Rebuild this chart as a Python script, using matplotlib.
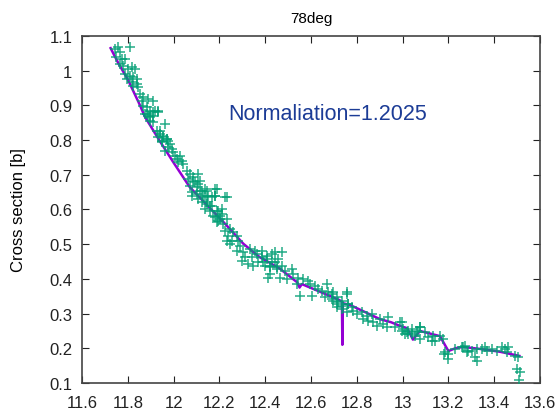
import numpy as np
import matplotlib.pyplot as plt

plt.rcParams['font.family'] = ['Liberation Sans', 'DejaVu Sans']

# fitted / normalised curve (purple)
line_x = [11.725, 11.76, 11.80, 11.85, 11.875, 11.94, 12.0, 12.07, 12.15, 12.216,
          12.233, 12.305, 12.377, 12.392, 12.465, 12.54, 12.55, 12.56, 12.65, 12.72,
          12.735, 12.737, 12.739, 12.77, 12.85, 12.901, 12.95, 12.99, 13.02, 13.045,
          13.076, 13.163, 13.2, 13.23, 13.264, 13.34, 13.425, 13.51]
line_y = [1.065, 1.02, 0.975, 0.905, 0.867, 0.797, 0.735, 0.665, 0.61, 0.565,
          0.553, 0.501, 0.462, 0.457, 0.429, 0.39, 0.375, 0.385, 0.36, 0.34,
          0.335, 0.21, 0.33, 0.325, 0.30, 0.284, 0.275, 0.264, 0.258, 0.225,
          0.25, 0.235, 0.192, 0.20, 0.204, 0.198, 0.19, 0.178]

# measured points (green)
data_x = [11.744, 11.759, 11.810, 11.766, 11.748, 11.773, 11.788, 11.766, 11.781, 11.817,
          11.802, 11.831, 11.788, 11.810, 11.824, 11.839, 11.795, 11.817, 11.839, 11.824,
          11.846, 11.853, 11.868, 11.861, 11.890, 11.912, 11.868, 11.882, 11.897, 11.919,
          11.875, 11.890, 11.912, 11.933, 11.897, 11.912, 11.962, 11.926, 11.941, 11.955,
          11.970, 11.948, 11.977,
          11.882, 11.912, 11.933, 11.897, 11.941, 11.955, 11.933, 11.970, 11.948, 11.984,
          11.977, 11.992, 11.962, 11.999, 12.006, 12.028, 12.013, 12.035, 12.021, 12.043,
          12.057, 12.072, 12.108, 12.064, 12.086, 12.093, 12.115, 12.072, 12.101, 12.079,
          12.123, 12.144, 12.188, 12.137, 12.108, 12.166, 12.181, 12.144, 12.159, 12.188,
          12.210, 12.174, 12.203, 12.232, 12.195, 12.217,
          12.086, 12.108, 12.079, 12.101, 12.115, 12.137, 12.181, 12.130, 12.152, 12.181,
          12.224, 12.123, 12.144, 12.166, 12.137, 12.159, 12.195, 12.210, 12.181, 12.203,
          12.232, 12.188, 12.224, 12.246, 12.261, 12.239, 12.275, 12.232, 12.254, 12.283,
          12.246, 12.290, 12.275, 12.305, 12.334, 12.355, 12.312, 12.297, 12.341, 12.363,
          12.384, 12.326, 12.348, 12.370, 12.406, 12.428, 12.399, 12.421, 12.443, 12.450,
          12.421,
          12.385, 12.443, 12.472, 12.406, 12.392, 12.428, 12.457, 12.421, 12.450, 12.472,
          12.487, 12.516, 12.414, 12.465, 12.494, 12.523, 12.545, 12.567, 12.537, 12.588,
          12.596, 12.618, 12.552, 12.603, 12.632, 12.647, 12.668, 12.676, 12.698, 12.661,
          12.690, 12.712, 12.734, 12.756, 12.712, 12.741, 12.763,
          12.690, 12.698, 12.719, 12.712, 12.734, 12.756, 12.763, 12.778, 12.756, 12.785,
          12.799, 12.821, 12.843, 12.865, 12.829, 12.850, 12.872, 12.901, 12.916, 12.938,
          12.887, 12.930, 12.967, 12.989, 12.996, 13.018, 13.040, 13.061, 13.076, 13.025,
          13.054,
          12.996, 13.003, 13.025, 13.040, 13.010, 13.076, 13.069, 13.098, 13.076, 13.112,
          13.127, 13.134, 13.163, 13.141, 13.178, 13.185, 13.200, 13.229, 13.258, 13.272,
          13.287, 13.302, 13.323, 13.180, 13.200,
          13.265, 13.280, 13.316, 13.323, 13.345, 13.360, 13.367, 13.389, 13.411, 13.433,
          13.447, 13.462, 13.454, 13.491, 13.505, 13.498, 13.513, 13.508]
data_y = [1.063, 1.067, 1.067, 1.053, 1.039, 1.034, 1.034, 1.019, 1.015, 1.010,
          1.005, 1.005, 0.991, 0.986, 0.981, 0.976, 0.976, 0.967, 0.962, 0.957,
          0.952, 0.933, 0.923, 0.914, 0.918, 0.914, 0.899, 0.894, 0.885, 0.885,
          0.875, 0.870, 0.870, 0.880, 0.856, 0.851, 0.846, 0.827, 0.818, 0.808,
          0.803, 0.798, 0.796,
          0.875, 0.880, 0.885, 0.866, 0.827, 0.813, 0.808, 0.803, 0.794, 0.789,
          0.779, 0.774, 0.770, 0.765, 0.755, 0.755, 0.746, 0.741, 0.736, 0.731,
          0.712, 0.702, 0.702, 0.688, 0.693, 0.678, 0.683, 0.669, 0.664, 0.640,
          0.654, 0.654, 0.659, 0.640, 0.630, 0.635, 0.640, 0.621, 0.611, 0.597,
          0.601, 0.582, 0.582, 0.635, 0.568, 0.558,
          0.683, 0.673, 0.649, 0.645, 0.654, 0.659, 0.659, 0.635, 0.640, 0.640,
          0.635, 0.621, 0.616, 0.611, 0.601, 0.597, 0.597, 0.587, 0.577, 0.573,
          0.573, 0.563, 0.539, 0.544, 0.534, 0.525, 0.525, 0.510, 0.510, 0.510,
          0.501, 0.496, 0.481, 0.477, 0.486, 0.481, 0.462, 0.453, 0.462, 0.472,
          0.462, 0.443, 0.438, 0.448, 0.457, 0.472, 0.438, 0.438, 0.448, 0.433,
          0.414,
          0.481, 0.477, 0.477, 0.467, 0.448, 0.448, 0.457, 0.433, 0.429, 0.438,
          0.424, 0.429, 0.404, 0.404, 0.400, 0.414, 0.404, 0.400, 0.385, 0.395,
          0.385, 0.380, 0.352, 0.352, 0.371, 0.366, 0.385, 0.361, 0.361, 0.347,
          0.342, 0.347, 0.337, 0.361, 0.328, 0.323, 0.328,
          0.356, 0.337, 0.332, 0.318, 0.313, 0.356, 0.328, 0.318, 0.304, 0.308,
          0.299, 0.304, 0.294, 0.299, 0.284, 0.280, 0.275, 0.284, 0.270, 0.289,
          0.265, 0.260, 0.260, 0.275, 0.251, 0.246, 0.256, 0.251, 0.260, 0.241,
          0.236,
          0.275, 0.256, 0.251, 0.241, 0.241, 0.260, 0.246, 0.246, 0.227, 0.232,
          0.222, 0.236, 0.236, 0.222, 0.227, 0.188, 0.184, 0.198, 0.203, 0.208,
          0.193, 0.193, 0.198, 0.184, 0.169,
          0.203, 0.188, 0.174, 0.164, 0.198, 0.203, 0.193, 0.198, 0.193, 0.203,
          0.198, 0.203, 0.188, 0.179, 0.174, 0.140, 0.131, 0.109]

xticks = [11.6, 11.8, 12, 12.2, 12.4, 12.6, 12.8, 13, 13.2, 13.4, 13.6]
xticklabels = ['11.6', '11.8', '12', '12.2', '12.4', '12.6', '12.8', '13', '13.2', '13.4', '13.6']
yticks = [0.1, 0.2, 0.3, 0.4, 0.5, 0.6, 0.7, 0.8, 0.9, 1.0, 1.1]
yticklabels = ['0.1', '0.2', '0.3', '0.4', '0.5', '0.6', '0.7', '0.8', '0.9', '1', '1.1']

fig = plt.figure(figsize=(5.6, 4.14), dpi=100)
ax = fig.add_axes([0.1464, 0.0725, 0.8179, 0.8381])

ax.plot(line_x, line_y, color='#9400d3', lw=1.8, zorder=2)
ax.plot(data_x, data_y, '+', color='#009e73', ms=7, mew=1.1, alpha=0.85, zorder=3)

ax.set_xlim(11.6, 13.6)
ax.set_ylim(0.1, 1.1)
ax.set_xticks(xticks, xticklabels)
ax.set_yticks(yticks, yticklabels)
ax.tick_params(direction='in', top=True, right=True, length=5, labelsize=12, colors='#222222')
ax.tick_params(axis='x', pad=9)
ax.tick_params(axis='y', pad=7)
for s in ax.spines.values():
    s.set_color('#444444')
    s.set_linewidth(1.2)

ax.set_title('78deg', fontsize=11, pad=10)
ax.set_ylabel('Cross section [b]', fontsize=12, labelpad=17)
ax.text(12.674, 0.878, 'Normaliation=1.2025', color='#1c3c96', fontsize=15.5,
        ha='center', va='center')

plt.savefig('out.png', dpi=100)
